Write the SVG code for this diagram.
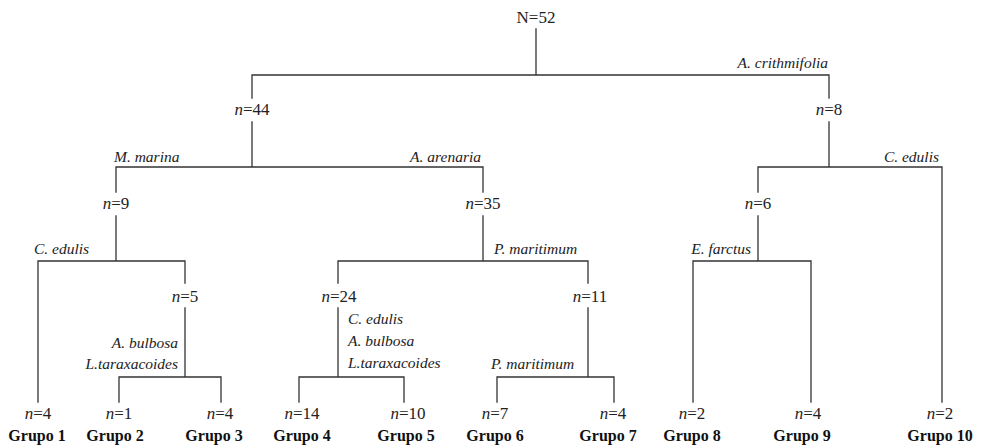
<svg xmlns="http://www.w3.org/2000/svg" width="981" height="445" viewBox="0 0 981 445">
<style>
.bg{fill:#ffffff}
.ln{stroke:#333333;stroke-width:1.3;fill:none;stroke-linecap:square}
.n{font-family:"Liberation Serif",serif;font-size:17px;fill:#222222;text-anchor:middle}
.n tspan.i{font-style:italic}
.sp{font-family:"Liberation Serif",serif;font-size:15.5px;font-style:italic;fill:#222222}
.g{font-family:"Liberation Serif",serif;font-size:16px;font-weight:bold;fill:#111111;text-anchor:middle}
.r{text-anchor:end}
</style>
<rect class="bg" x="0" y="0" width="981" height="445"/>
<g id="connectors">
<path class="ln" d="M536,29V75 M252,75H829
M252,75V98 M252,122V167 M116,167H483
M116,167V192 M116,216V261 M38,261H185
M38,261V402 M185,261V283 M185,308V377 M119,377H221 M119,377V402 M221,377V402
M483,167V192 M483,216V261 M338,261H588
M338,261V283 M338,308V377 M299,377H404 M299,377V402 M404,377V402
M588,261V283 M588,308V377 M497,377H614 M497,377V402 M614,377V402
M829,75V98 M829,122V167 M758,167H942
M758,167V192 M758,216V261 M693,261H811 M693,261V402 M811,261V402
M942,167V402"/>
</g>
<g id="edge-labels">
<text class="sp r" x="828" y="68">A. crithmifolia</text>
<text class="sp" x="114" y="162">M. marina</text>
<text class="sp r" x="481" y="162">A. arenaria</text>
<text class="sp r" x="939" y="162">C. edulis</text>
<text class="sp" x="34" y="254">C. edulis</text>
<text class="sp" x="494" y="254">P. maritimum</text>
<text class="sp r" x="751" y="254">E. farctus</text>
<text class="sp r" x="178" y="348">A. bulbosa</text>
<text class="sp r" x="178" y="369">L.taraxacoides</text>
<text class="sp" x="348" y="324">C. edulis</text>
<text class="sp" x="348" y="346">A. bulbosa</text>
<text class="sp" x="348" y="368">L.taraxacoides</text>
<text class="sp" x="491" y="369">P. maritimum</text>
</g>
<g id="node-root"><text class="n" x="536" y="23">N=52</text></g>
<g id="node-n44"><text class="n" x="252" y="115"><tspan class="i">n</tspan>=44</text></g>
<g id="node-n8"><text class="n" x="829" y="115"><tspan class="i">n</tspan>=8</text></g>
<g id="node-n9"><text class="n" x="116" y="209"><tspan class="i">n</tspan>=9</text></g>
<g id="node-n35"><text class="n" x="483" y="209"><tspan class="i">n</tspan>=35</text></g>
<g id="node-n6"><text class="n" x="758" y="209"><tspan class="i">n</tspan>=6</text></g>
<g id="node-n5"><text class="n" x="185" y="302"><tspan class="i">n</tspan>=5</text></g>
<g id="node-n24"><text class="n" x="339" y="302"><tspan class="i">n</tspan>=24</text></g>
<g id="node-n11"><text class="n" x="590" y="302"><tspan class="i">n</tspan>=11</text></g>
<g id="grupo-1"><text class="n" x="38" y="419"><tspan class="i">n</tspan>=4</text><text class="g" x="37" y="441">Grupo 1</text></g>
<g id="grupo-2"><text class="n" x="119" y="419"><tspan class="i">n</tspan>=1</text><text class="g" x="115" y="441">Grupo 2</text></g>
<g id="grupo-3"><text class="n" x="220" y="419"><tspan class="i">n</tspan>=4</text><text class="g" x="214" y="441">Grupo 3</text></g>
<g id="grupo-4"><text class="n" x="302" y="419"><tspan class="i">n</tspan>=14</text><text class="g" x="302" y="441">Grupo 4</text></g>
<g id="grupo-5"><text class="n" x="408" y="419"><tspan class="i">n</tspan>=10</text><text class="g" x="406" y="441">Grupo 5</text></g>
<g id="grupo-6"><text class="n" x="495" y="419"><tspan class="i">n</tspan>=7</text><text class="g" x="495" y="441">Grupo 6</text></g>
<g id="grupo-7"><text class="n" x="613" y="419"><tspan class="i">n</tspan>=4</text><text class="g" x="608" y="441">Grupo 7</text></g>
<g id="grupo-8"><text class="n" x="692" y="419"><tspan class="i">n</tspan>=2</text><text class="g" x="692" y="441">Grupo 8</text></g>
<g id="grupo-9"><text class="n" x="808" y="419"><tspan class="i">n</tspan>=4</text><text class="g" x="802" y="441">Grupo 9</text></g>
<g id="grupo-10"><text class="n" x="940" y="419"><tspan class="i">n</tspan>=2</text><text class="g" x="940" y="441">Grupo 10</text></g>
</svg>
